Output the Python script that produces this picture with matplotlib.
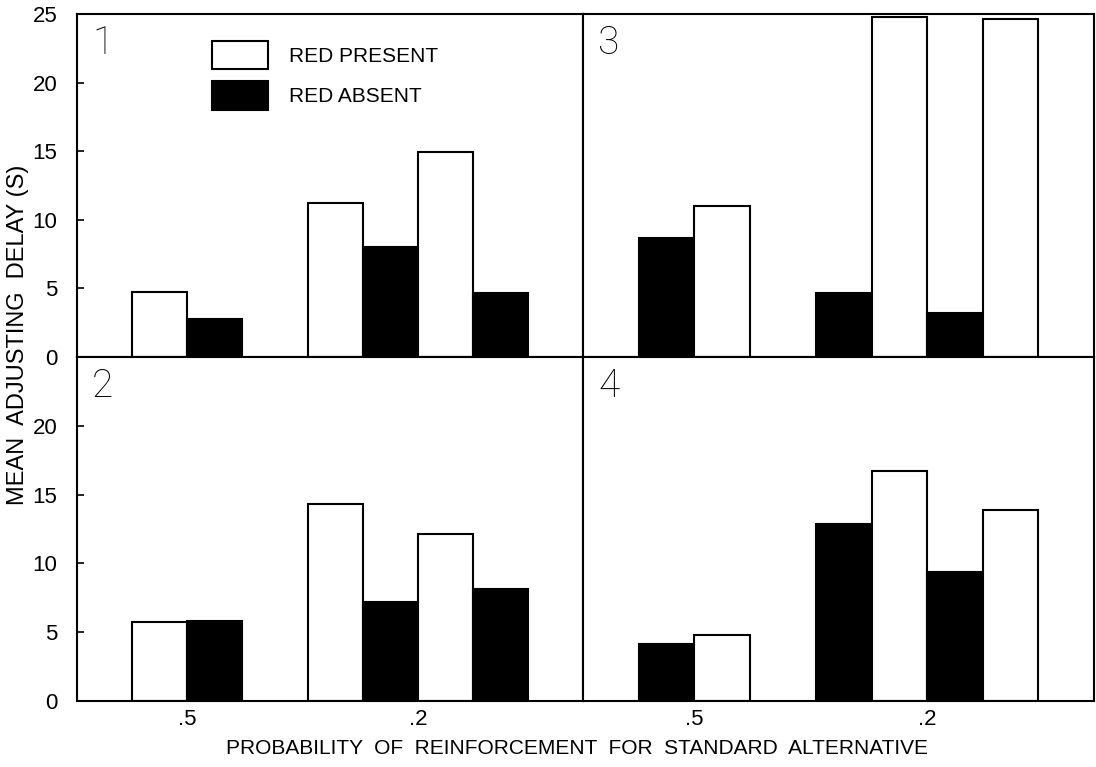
import numpy as np
import matplotlib.pyplot as plt
from matplotlib.patches import Rectangle

# bar heights (s), in left-to-right order within each panel
panel1 = [4.76, 2.75, 11.2, 8.04, 14.94, 4.64]
panel2 = [5.71, 5.85, 14.31, 7.17, 12.12, 8.16]
panel3 = [8.7, 11.03, 4.64, 24.76, 3.18, 24.64]
panel4 = [4.13, 4.79, 12.85, 16.74, 9.38, 13.85]

# True = red present (white), False = red absent (black)
present_a = [True, False, True, False, True, False]
present_b = [False, True, False, True, False, True]

bar_left = [1.0, 2.0, 4.2, 5.2, 6.2, 7.2]
group_centers = [2.0, 6.2]
group_labels = [".5", ".2"]

plt.rcParams['font.family'] = ['Liberation Sans', 'DejaVu Sans']

fig = plt.figure(figsize=(10.96, 7.67), dpi=100)

x0, xm, x1 = 77 / 1096, 583 / 1096, 1094 / 1096
yb, ym, yt = 1 - 701 / 767, 1 - 357 / 767, 1 - 14 / 767

panels = [
    (panel1, present_a, "1", [x0, ym, xm - x0, yt - ym], True, False),
    (panel3, present_b, "3", [xm, ym, x1 - xm, yt - ym], False, False),
    (panel2, present_a, "2", [x0, yb, xm - x0, ym - yb], True, True),
    (panel4, present_b, "4", [xm, yb, x1 - xm, ym - yb], False, True),
]

for vals, pres, num, rect, left, bottom in panels:
    ax = fig.add_axes(rect)
    colors = ['white' if p else 'black' for p in pres]
    ax.bar(bar_left, vals, width=1.0, align='edge', color=colors,
           edgecolor='black', linewidth=1.5)
    ax.set_xlim(0, 9.2)
    ax.set_ylim(0, 25)
    for s in ax.spines.values():
        s.set_linewidth(1.5)
    if left:
        ticks = [0, 5, 10, 15, 20, 25] if not bottom else [0, 5, 10, 15, 20]
        ax.set_yticks(ticks)
        ax.tick_params(axis='y', direction='in', length=5, width=1.2,
                       labelsize=16, pad=14)
    else:
        ax.set_yticks([])
    if bottom:
        ax.set_xticks(group_centers)
        ax.set_xticklabels(group_labels)
        ax.tick_params(axis='x', length=0, labelsize=16, pad=6)
    else:
        ax.set_xticks([])
    # panel number, thin strokes like the original lettering
    ax.text(0.03, 0.97, num, transform=ax.transAxes, fontsize=28,
            fontweight='light', color='black', va='top', ha='left',
            family=['Roboto', 'DejaVu Sans'])

# legend in panel 1
fig.patches.append(Rectangle((212 / 1096, 1 - 69 / 767), 56 / 1096, 28 / 767,
                             transform=fig.transFigure, facecolor='white',
                             edgecolor='black', linewidth=1.5))
fig.patches.append(Rectangle((212 / 1096, 1 - 110 / 767), 56 / 1096, 29 / 767,
                             transform=fig.transFigure, facecolor='black',
                             edgecolor='black', linewidth=1.5))
fig.text(289 / 1096, 1 - 56 / 767, "RED PRESENT", fontsize=15, va='center')
fig.text(289 / 1096, 1 - 97 / 767, "RED ABSENT", fontsize=15, va='center')

fig.text(18 / 1096, 1 - 335 / 767, "MEAN  ADJUSTING  DELAY (S)", rotation=90,
         fontsize=17, va='center', ha='center')
fig.text(577 / 1096, 1 - 748 / 767,
         "PROBABILITY  OF  REINFORCEMENT  FOR  STANDARD  ALTERNATIVE",
         fontsize=15, va='center', ha='center')

fig.savefig("out.png", dpi=100)
